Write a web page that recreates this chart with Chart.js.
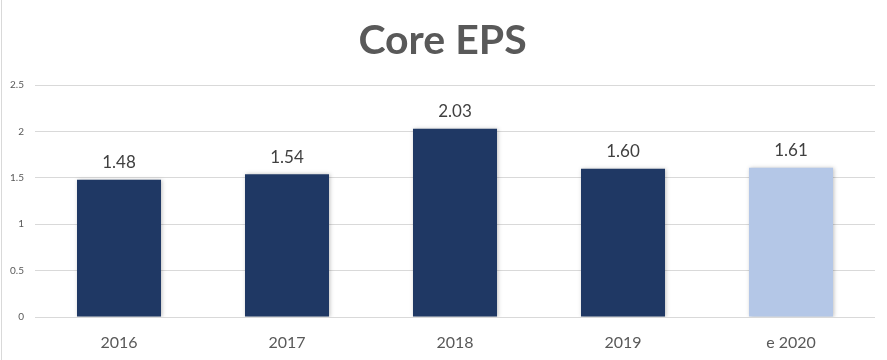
<!DOCTYPE html>
<html>
<head>
<meta charset="utf-8">
<script src="https://cdn.jsdelivr.net/npm/chart.js@4"></script>
<style>
  body { margin: 0; background: #fff; }
  #wrap { position: relative; width: 887px; height: 360px; }
  #edge { position: absolute; left: 1px; top: 0; width: 1px; height: 360px; background: #d9d9d9; }
</style>
</head>
<body>
<div id="wrap">
  <canvas id="eps" width="887" height="360"></canvas>
  <div id="edge"></div>
</div>
<script>
const years = ["2016", "2017", "2018", "2019", "e 2020"];
const coreEps = [1.48, 1.54, 2.03, 1.60, 1.61];
const barColors = ["#1F3864", "#1F3864", "#1F3864", "#1F3864", "#B4C7E7"];

const fontFamily = "Lato, 'Open Sans', sans-serif";

// numbers above each bar
const valueLabels = {
  id: "valueLabels",
  afterDatasetsDraw(chart) {
    const ctx = chart.ctx;
    const meta = chart.getDatasetMeta(0);
    ctx.save();
    ctx.font = "17px " + fontFamily;
    ctx.fillStyle = "#404040";
    ctx.textAlign = "center";
    ctx.textBaseline = "middle";
    meta.data.forEach((bar, i) => {
      ctx.fillText(coreEps[i].toFixed(2), bar.x, bar.y - 17);
    });
    ctx.restore();
  },
};

// soft shadow behind the bars
const barShadow = {
  id: "barShadow",
  beforeDatasetsDraw(chart) {
    const ctx = chart.ctx;
    ctx.save();
    ctx.shadowColor = "rgba(0,0,0,0.25)";
    ctx.shadowBlur = 4;
    ctx.shadowOffsetX = 1;
    ctx.shadowOffsetY = 0;
  },
  afterDatasetsDraw(chart) {
    chart.ctx.restore();
  },
};

new Chart(document.querySelector("#eps"), {
  type: "bar",
  data: {
    labels: years,
    datasets: [
      {
        data: coreEps,
        backgroundColor: barColors,
        barPercentage: 0.5,
        categoryPercentage: 1,
      },
    ],
  },
  options: {
    responsive: false,
    animation: false,
    layout: {
      padding: { left: 10, right: 12, top: 0, bottom: 0 },
    },
    plugins: {
      legend: { display: false },
      tooltip: { enabled: false },
      title: {
        display: true,
        text: "Core EPS",
        color: "#595959",
        font: { family: fontFamily, size: 41, weight: "bold" },
        padding: { top: 16, bottom: 20 },
      },
    },
    scales: {
      x: {
        grid: { display: false },
        border: { display: false },
        ticks: {
          color: "#595959",
          font: { family: fontFamily, size: 16 },
          padding: 8,
        },
        afterFit(scale) {
          scale.height = 43;
        },
      },
      y: {
        min: 0,
        max: 2.5,
        grid: { color: "#d9d9d9", drawTicks: false },
        border: { display: false },
        ticks: {
          stepSize: 0.5,
          color: "#595959",
          font: { family: fontFamily, size: 10 },
          padding: 11,
          callback: (v) => String(v),
        },
        afterFit(scale) {
          scale.width = 25;
        },
      },
    },
  },
  plugins: [barShadow, valueLabels],
});
</script>
</body>
</html>
